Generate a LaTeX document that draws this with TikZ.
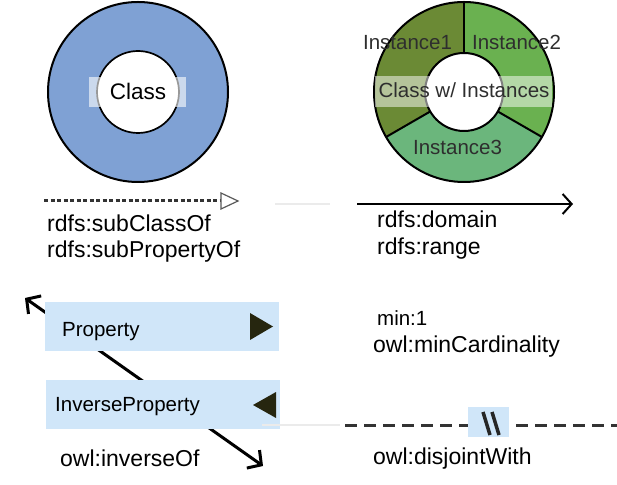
\documentclass[tikz,border=0pt]{standalone}
\usepackage{fontspec}
\setmainfont{Liberation Sans}
\usetikzlibrary{arrows.meta,calc}
\definecolor{classblue}{HTML}{7FA1D4}
\definecolor{instA}{HTML}{6B8A35}
\definecolor{instB}{HTML}{6AB150}
\definecolor{instC}{HTML}{6BB67C}
\definecolor{boxblue}{HTML}{D0E6F9}
\definecolor{tridark}{HTML}{26260F}
\definecolor{txtgray}{HTML}{2E2E2E}
\tikzset{
  big/.style={font=\fontsize{23}{27}\selectfont, inner sep=0pt, anchor=base west},
  small/.style={font=\fontsize{20.5}{24}\selectfont, inner sep=0pt},
  pbox/.style={fill=boxblue, draw=none, minimum width=234pt, minimum height=49pt, anchor=south west, inner sep=0pt},
  barb/.style={line width=2pt, -{Straight Barb[length=9pt,width=20pt]}},
  faint/.style={draw=black!8, line width=1.5pt},
}
\begin{document}
\begin{tikzpicture}[x=1pt,y=1pt]
\useasboundingbox (0,0) rectangle (617,484);
% ---- Class donut
\coordinate (cc) at (138,392);
\fill[classblue] (cc) circle (90);
\draw[line width=2pt] (cc) circle (90);
\draw[line width=1.7pt, fill=white] (cc) circle (41);
\node[fill=white, fill opacity=0.6, minimum width=97pt, minimum height=30pt, inner sep=0pt] (classband) at (137.5,392) {};
\node[font=\fontsize{22.5}{26}\selectfont, inner sep=0pt, anchor=base] (classlbl) at (138,384) {Class};
% ---- Class with instances donut
\coordinate (gc) at (464,392);
\fill[instA] (gc) -- ++(90:90) arc[start angle=90, end angle=210, radius=90] -- cycle;
\fill[instC] (gc) -- ++(210:90) arc[start angle=210, end angle=330, radius=90] -- cycle;
\fill[instB] (gc) -- ++(330:90) arc[start angle=330, end angle=450, radius=90] -- cycle;
\draw[line width=2pt] (gc) circle (90);
\foreach \a in {90,210,330} \draw[line width=2pt] ($(gc)+(\a:39)$) -- ($(gc)+(\a:90)$);
\draw[line width=2pt, fill=white] (gc) circle (39);
\node[fill=white, fill opacity=0.5, minimum width=177pt, minimum height=31pt, inner sep=0pt] (gband) at (463.5,392.5) {};
\node[small, text=txtgray, anchor=base] (i1) at (407.5,434) {Instance1};
\node[small, text=txtgray, anchor=base] (i2) at (516.5,434) {Instance2};
\node[small, text=txtgray, anchor=base] (cwi) at (464,386) {Class w/ Instances};
\node[small, text=txtgray, anchor=base] (i3) at (457.5,329) {Instance3};
% ---- subClassOf arrow
\coordinate (sa) at (44,283);
\coordinate (sb) at (221,283);
\draw[line width=3pt, draw=black!80, dash pattern=on 4pt off 2.5pt] (sa) -- (sb);
\draw[line width=1.2pt, draw=black!65, fill=white] (221,291) -- (238,283) -- (221,275) -- cycle;
\node[big] (subc) at (47,252) {rdfs:subClassOf};
\node[big] (subp) at (47,226) {rdfs:subPropertyOf};
% faint line
\coordinate (fa) at (275,280);
\coordinate (fb) at (330,280);
\draw[faint] (fa) -- (fb);
% ---- domain/range arrow
\coordinate (da) at (357,280);
\coordinate (db) at (573,280);
\draw[barb] (da) -- (db);
\node[big] (dom) at (377,256) {rdfs:domain};
\node[big] (rng) at (377,229) {rdfs:range};
% ---- inverse property arrow (behind boxes)
\coordinate (ia) at (263,18);
\coordinate (ib) at (25,186);
\draw[line width=3pt, {Straight Barb[length=10pt,width=22pt]}-{Straight Barb[length=10pt,width=22pt]}] (ia) -- (ib);
\node[pbox] (prop) at (45,133) {};
\node[small, anchor=base west] (proplbl) at (62,147) {Property};
\fill[tridark] (250,171) -- (273,157.5) -- (250,144) -- cycle;
\node[pbox] (iprop) at (46,55) {};
\node[small, anchor=base west] (iproplbl) at (55,73) {InverseProperty};
\fill[tridark] (276,92) -- (253,79) -- (276,66) -- cycle;
\node[big] (inv) at (60,18) {owl:inverseOf};
% ---- cardinality
\node[small, anchor=base west] (min) at (377,158) {min:1};
\node[big] (card) at (373,131) {owl:minCardinality};
% ---- disjoint
\coordinate (fc) at (262,59);
\coordinate (fd) at (340,59);
\draw[faint] (fc) -- (fd);
\coordinate (ja) at (345,59);
\coordinate (jb) at (617,59);
\draw[line width=3pt, draw=black!80, dash pattern=on 12pt off 7pt] (ja) -- (jb);
\node[fill=boxblue, minimum width=41pt, minimum height=30pt, inner sep=0pt] (dis) at (488.5,62) {};
\draw[line width=3.5pt, draw=black!85] (483,72) -- (490,49);
\draw[line width=3.5pt, draw=black!85] (492,72) -- (499,49);
\node[big] (disj) at (373,20) {owl:disjointWith};
\end{tikzpicture}
\end{document}
